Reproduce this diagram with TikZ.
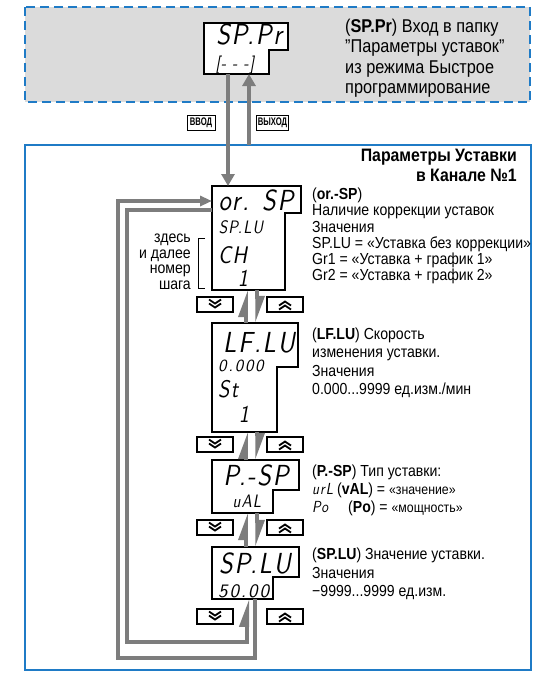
\documentclass[tikz,border=0pt]{standalone}
\usepackage{fontspec}
\setmainfont{Liberation Sans}[FakeStretch=0.88]
\newfontfamily\tagfont{Liberation Sans}[FakeStretch=0.7]
\newfontfamily\segfont{lmsans10-oblique}[Extension=.otf, FakeStretch=0.85, LetterSpace=6]
\newfontfamily\segwide{lmsans10-oblique}[Extension=.otf, LetterSpace=10]
\usetikzlibrary{arrows.meta,positioning,calc}

\definecolor{colorBlue}{HTML}{1F7BC6}
\definecolor{colorGrey}{HTML}{7D7D7D}
\definecolor{colorPanel}{HTML}{DBDBDB}

% stepped outline of an indicator: node, step width, step depth
\newcommand{\dispframe}[3]{%
  \draw[displine] (#1.north west) -- (#1.north east) -- ++(0,#3) -- ++(-#2,0) |- (#1.south west) -- cycle;}

\tikzset{
  disp/.style={anchor=north west, inner sep=0pt, outer sep=0pt},
  displine/.style={draw=black, fill=white, line width=1.3pt},
  seg/.style={anchor=base, inner sep=0pt},
  segbig/.style={seg, font=\segfont\fontsize{29}{29}\selectfont},
  segmid/.style={seg, font=\segfont\fontsize{24}{24}\selectfont},
  segsmall/.style={seg, font=\segfont\fontsize{18}{18}\selectfont},
  segdigits/.style={seg, anchor=base west, font=\segwide\fontsize{17}{17}\selectfont},
  desc/.style={anchor=north west, align=left, inner sep=0pt},
  tag/.style={draw, line width=0.9pt, fill=white, inner sep=1pt, minimum height=15pt,
    font=\tagfont\bfseries\fontsize{11}{11}\selectfont},
  main arrow/.style={draw=colorGrey, line width=4pt, -{Triangle[length=12pt,width=13pt]}},
  harp/.style={draw=colorGrey, line width=3.5pt, -{Triangle[harpoon,length=22pt,width=15pt]}},
  loopline/.style={draw=colorGrey, line width=4pt, line join=miter},
  keybox/.style={draw, line width=1.2pt, fill=white, minimum width=36pt, minimum height=15pt, inner sep=0pt},
  keydown/.style={keybox, path picture={
    \coordinate (kc) at (path picture bounding box.center);
    \draw[line width=1.8pt] ($(kc)+(-6,-5)$) -- ++(6,4) -- ++(6,-4);
    \draw[line width=1.8pt] ($(kc)+(-6,-1)$) -- ++(6,4) -- ++(6,-4);}},
  keyup/.style={keybox, path picture={
    \coordinate (kc) at (path picture bounding box.center);
    \draw[line width=1.8pt] ($(kc)+(-6,1)$) -- ++(6,-4) -- ++(6,4);
    \draw[line width=1.8pt] ($(kc)+(-6,5)$) -- ++(6,-4) -- ++(6,4);}},
}

\begin{document}
\begin{tikzpicture}[x=1pt, y=-1pt]
  \useasboundingbox (0,0) rectangle (540,677);

  % quick programming area and channel frame
  \draw[colorBlue, line width=2pt, dash pattern=on 9pt off 5pt, fill=colorPanel] (25,7) rectangle (530,102);
  \draw[colorBlue, line width=1.5pt] (25,145) rectangle (531,670);

  % indicators
  \node[disp, minimum width=84pt, minimum height=51pt] (sppr) at (204,23) {};
  \dispframe{sppr}{19}{27}
  \node[disp, minimum width=89pt, minimum height=104pt] (orsp) at (212,186) {};
  \dispframe{orsp}{16}{27}
  \node[disp, minimum width=86pt, minimum height=109pt] (lflu) at (212,323) {};
  \dispframe{lflu}{21}{44}
  \node[disp, minimum width=87pt, minimum height=53pt] (psp) at (212,460) {};
  \dispframe{psp}{26}{30}
  \node[disp, minimum width=87pt, minimum height=52pt] (splu) at (212,547) {};
  \dispframe{splu}{26}{30}

  \node[segbig] (t-sppr) at (249,45) {SP.Pr};
  \node[segsmall] (t-sppr2) at (235,70) {[- - -]};
  \node[segbig] (t-orsp) at (256,210) {or. SP};
  \node[segsmall] (t-orsp2) at (241,233) {SP.LU};
  \node[segmid, anchor=base west] (t-orsp3) at (218,263) {CH};
  \node[segmid] (t-orsp4) at (243,286) {1};
  \node[segbig] (t-lflu) at (259,352) {LF.LU};
  \node[segdigits] (t-lflu2) at (218,371) {0.000};
  \node[segmid, anchor=base west] (t-lflu3) at (218,397) {St};
  \node[segmid] (t-lflu4) at (244,422) {1};
  \node[segbig] (t-psp) at (256,485) {P.-SP};
  \node[segsmall] (t-psp2) at (247,507) {uAL};
  \node[segbig] (t-splu) at (255,573) {SP.LU};
  \node[segdigits, font=\segwide\fontsize{19}{19}\selectfont] (t-splu2) at (218,597) {50.00};

  % enter / exit
  \draw[main arrow] ([xshift=24pt]sppr.south west) -- ([xshift=16pt]orsp.north west);
  \coordinate (exit) at (249,145);
  \draw[main arrow] (exit) -- (exit |- sppr.south);
  \node[tag, minimum width=28pt] (enter) at (201,122.5) {ВВОД};
  \node[tag, minimum width=31pt] (leave) at (272.5,122.5) {ВЫХОД};

  % keys
  \node[keydown] (d1) at (215,304.5) {};
  \node[keyup] (u1) at (285,304.5) {};
  \node[keydown] (d2) at (215,444.5) {};
  \node[keyup] (u2) at (285,444.5) {};
  \node[keydown] (d3) at (215,527.5) {};
  \node[keyup] (u3) at (285,527.5) {};
  \node[keydown] (d4) at (215,616.5) {};
  \node[keyup] (u4) at (285,616.5) {};

  % steps
  \draw[harp] ([xshift=34pt]lflu.north west) -- ([xshift=34pt]orsp.south west);
  \draw[harp] ([xshift=45pt]orsp.south west) -- ([xshift=45pt]lflu.north west);
  \draw[harp] ([xshift=34pt]psp.north west) -- ([xshift=34pt]lflu.south west);
  \draw[harp] ([xshift=45pt]lflu.south west) -- ([xshift=45pt]psp.north west);
  \draw[harp] ([xshift=34pt]splu.north west) -- ([xshift=34pt]psp.south west);
  \draw[harp] ([xshift=45pt]psp.south west) -- ([xshift=45pt]splu.north west);

  % wrap around
  \draw[loopline, -{Triangle[harpoon,length=22pt,width=15pt]}] ([yshift=-24pt]orsp.north west) -- ++(-85,0) -- ++(0,432) -| ([xshift=35pt]splu.south west);
  \draw[loopline, -{Triangle[length=12pt,width=10pt]}] ([xshift=43pt]splu.south west) -- ++(0,59) -- ++(-137,0) |- ([yshift=-15pt]orsp.north west);

  % step number note
  \draw[line width=0.8pt] (205,238) -- (198,238) -- (198,288) -- (205,288);
  \node[desc, anchor=north east, align=right, font=\fontsize{16}{15.5}\selectfont] (note) at (191,234) {здесь\\и далее\\номер\\шага};

  % descriptions
  \node[desc, font=\fontsize{18.5}{20.3}\selectfont] (d-sppr) at (345,19)
    {(\textbf{SP.Pr}) Вход в папку\\"Параметры уставок"\\из режима Быстрое\\программирование};
  \node[desc, anchor=north east, align=right, font=\bfseries\fontsize{18}{19.5}\selectfont] (title) at (517,149)
    {Параметры Уставки\\в Канале №1};
  \node[desc, font=\fontsize{16}{16.2}\selectfont] (d-orsp) at (312,188)
    {(\textbf{or.-SP})\\Наличие коррекции уставок\\Значения\\SP.LU = «Уставка без коррекции»\\Gr1 = «Уставка + график 1»\\Gr2 = «Уставка + график 2»};
  \node[desc, font=\fontsize{16}{18.2}\selectfont] (d-lflu) at (312,328)
    {(\textbf{LF.LU}) Скорость\\изменения уставки.\\Значения\\0.000...9999 ед.изм./мин};
  \node[desc, font=\fontsize{16}{18}\selectfont] (d-psp) at (312,464.5)
    {(\textbf{P.-SP}) Тип уставки:\\{\segfont urL} (\textbf{vAL}) = {\fontsize{14}{18}\selectfont«значение»}\\{\segfont Po}\quad\ (\textbf{Po}) = {\fontsize{14}{18}\selectfont«мощность»}};
  \node[desc, font=\fontsize{16}{18.3}\selectfont] (d-splu) at (312,548)
    {(\textbf{SP.LU}) Значение уставки.\\Значения\\−9999...9999 ед.изм.};
\end{tikzpicture}
\end{document}
